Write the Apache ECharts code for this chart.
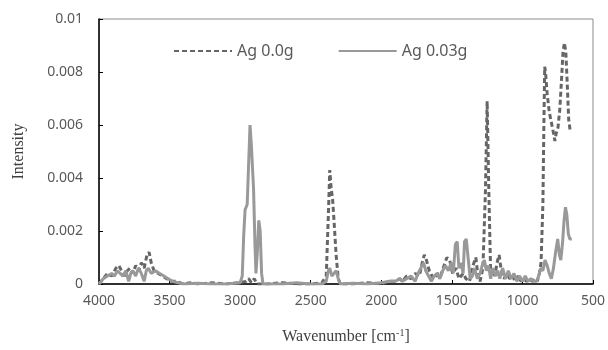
<!DOCTYPE html>
<html>
<head>
<meta charset="utf-8">
<script src="https://cdn.jsdelivr.net/npm/echarts@6/dist/echarts.min.js"></script>
<style>
  html, body { margin: 0; padding: 0; background: #fff; }
  #chart { width: 608px; height: 350px; }
</style>
</head>
<body>
<div id="chart"></div>
<script>
// Ag 0.0g (dashed)
var wnAg0 = [4000,3970,3940,3910,3880,3860,3840,3820,3800,3780,3760,3740,3720,3700,3680,3660,3645,3630,3610,3580,3550,3520,3490,3450,3400,3350,3300,3200,3100,3000,2960,2940,2920,2900,2880,2800,2700,2600,2500,2420,2390,2375,2365,2355,2345,2335,2320,2305,2290,2200,2100,2000,1950,1900,1870,1850,1820,1790,1760,1730,1710,1695,1680,1660,1640,1620,1600,1580,1555,1535,1515,1495,1470,1450,1420,1400,1375,1350,1330,1315,1300,1280,1262,1250,1238,1225,1210,1195,1180,1165,1150,1130,1110,1090,1070,1050,1030,1010,990,970,950,930,910,895,880,868,855,848,842,835,825,810,795,780,770,760,748,735,722,712,702,692,682,672,662,650];
var intAg0 = [0,0.0002,0.0004,0.0003,0.0006,0.0007,0.0005,0.0003,0.0005,0.0006,0.0004,0.0007,0.0005,0.0008,0.0006,0.0011,0.0012,0.0008,0.0005,0.0004,0.0003,0.0002,0.0001,0.0001,0,0.00005,0,0.00005,0,0.00005,0.0001,0.0002,0.00005,0.0002,0,0,0.00005,0,0,0.00005,0.0003,0.0026,0.0043,0.0036,0.0032,0.0024,0.0011,0.0002,0,0,0.00005,0,0.0001,0.0001,0.0002,0.0001,0.0003,0.0002,0.0004,0.0003,0.0008,0.0011,0.0009,0.0005,0.0003,0.0002,0.0004,0.0003,0.0007,0.0010,0.0009,0.0004,0.0006,0.0002,0.0004,0.0002,0.0001,0.0007,0.0010,0.0003,0.0001,0.0006,0.0035,0.0069,0.0035,0.0004,0.0005,0.0003,0.0008,0.0011,0.0005,0.0002,0.0004,0.0002,0.0003,0.0001,0.0003,0.0001,0.0002,0.0001,0.0002,0.0001,0.0002,0.0001,0.0004,0.0008,0.0030,0.0060,0.0082,0.0079,0.0072,0.0065,0.0061,0.0057,0.0054,0.0057,0.0059,0.0066,0.0078,0.0088,0.0091,0.0087,0.0075,0.0062,0.0058,0.0058];

// Ag 0.03g (solid)
var wnAg03 = [4000,3970,3940,3910,3890,3870,3850,3830,3810,3790,3775,3760,3740,3720,3700,3680,3665,3650,3630,3600,3570,3540,3510,3480,3440,3400,3300,3200,3100,3000,2985,2975,2965,2950,2940,2930,2920,2905,2895,2888,2878,2868,2858,2848,2838,2700,2600,2500,2420,2390,2375,2365,2350,2335,2320,2305,2290,2200,2100,2000,1950,1900,1870,1850,1820,1790,1760,1740,1720,1700,1685,1665,1645,1625,1605,1585,1565,1545,1525,1505,1490,1475,1462,1450,1435,1420,1410,1398,1385,1370,1355,1340,1320,1300,1285,1270,1255,1240,1225,1210,1190,1175,1160,1140,1120,1100,1080,1060,1040,1020,1000,980,960,940,920,900,885,870,855,840,825,810,795,780,765,750,738,728,715,705,695,685,675,665,650];
var intAg03 = [0,0.0002,0.0003,0.0004,0.0003,0.0005,0.0004,0.0003,0.0005,0.0001,0.0004,0.0005,0.0003,0.0006,0.0004,0.0001,0.0005,0.0006,0.0004,0.0005,0.0004,0.0003,0.0002,0.0001,0.00005,0,0.00003,0,0,0.00005,0.0003,0.0018,0.0028,0.0030,0.0045,0.0060,0.0052,0.0036,0.0015,0.0004,0.0012,0.0024,0.0020,0.0004,0,0,0.00005,0,0,0.0001,0.0005,0.0006,0.0003,0.0004,0.0005,0.0002,0,0.00003,0,0.00005,0.0001,0.0001,0.0002,0.0001,0.0002,0.0003,0.0001,0.0004,0.0006,0.0008,0.0005,0.0003,0.0001,0.0003,0.0004,0.0002,0.0005,0.0007,0.0005,0.0008,0.0004,0.0015,0.0016,0.0006,0.0008,0.0004,0.0016,0.0017,0.0010,0.0002,0.0003,0.0006,0.0002,0.0004,0.0007,0.0009,0.0005,0.0007,0.0002,0.0006,0.0003,0.0005,0.0002,0.0006,0.0002,0.0005,0.0002,0.0004,0.0001,0.0003,0.0001,0.0003,0.0001,0.0002,0.0001,0.0001,0.0003,0.0006,0.0005,0.0009,0.0007,0.0004,0.0002,0.0006,0.0012,0.0017,0.0011,0.0009,0.0016,0.0024,0.0029,0.0026,0.0019,0.0017,0.0017];

var seriesNames = ['Ag 0.0g', 'Ag 0.03g'];

function pairs(xs, ys) {
  var out = [];
  for (var i = 0; i < xs.length; i++) out.push([xs[i], ys[i]]);
  return out;
}

var chart = echarts.init(document.getElementById('chart'));
var tickFont = { color: '#595959', fontSize: 14, fontFamily: 'Noto Sans' };

chart.setOption({
  animation: false,
  backgroundColor: '#fff',
  grid: { left: 99, right: 15, top: 19, bottom: 65, show: true, borderColor: '#8c8c8c', borderWidth: 1 },
  legend: {
    data: seriesNames,
    left: 168, top: 38,
    itemWidth: 58, itemHeight: 10, itemGap: 44,
    itemStyle: { opacity: 0 },
    textStyle: { color: '#595959', fontSize: 16, fontFamily: 'Noto Sans' }
  },
  xAxis: {
    type: 'value', inverse: true, min: 500, max: 4000, interval: 500,
    name: 'Wavenumber [cm{sup|-1}]', nameLocation: 'middle', nameGap: 44,
    nameTextStyle: { color: '#404040', fontSize: 16, fontFamily: 'Liberation Serif',
      rich: { sup: { fontSize: 10, verticalAlign: 'top', color: '#404040', fontFamily: 'Liberation Serif', padding: [0, 0, 8, 0] } } },
    axisLine: { lineStyle: { color: '#000', width: 1.5 } },
    axisTick: { inside: true, length: 4, lineStyle: { color: '#000' } },
    axisLabel: Object.assign({ margin: 10, formatter: function (v) { return String(v); } }, tickFont),
    splitLine: { show: false }
  },
  yAxis: {
    type: 'value', min: 0, max: 0.01, interval: 0.002,
    name: 'Intensity', nameLocation: 'middle', nameGap: 72,
    nameTextStyle: { color: '#404040', fontSize: 16, fontFamily: 'Liberation Serif' },
    axisLine: { show: true, lineStyle: { color: '#000', width: 1.5 } },
    axisTick: { show: true, inside: true, length: 4, lineStyle: { color: '#000' } },
    axisLabel: Object.assign({ margin: 16 }, tickFont),
    splitLine: { show: false }
  },
  series: [
    {
      name: seriesNames[0], type: 'line', data: pairs(wnAg0, intAg0),
      showSymbol: false, symbol: 'none',
      itemStyle: { color: '#666666' },
      lineStyle: { color: '#666666', width: 3, type: [5, 3] }
    },
    {
      name: seriesNames[1], type: 'line', data: pairs(wnAg03, intAg03),
      showSymbol: false, symbol: 'none',
      itemStyle: { color: '#999999' },
      lineStyle: { color: '#999999', width: 3 }
    }
  ]
});
</script>
</body>
</html>
